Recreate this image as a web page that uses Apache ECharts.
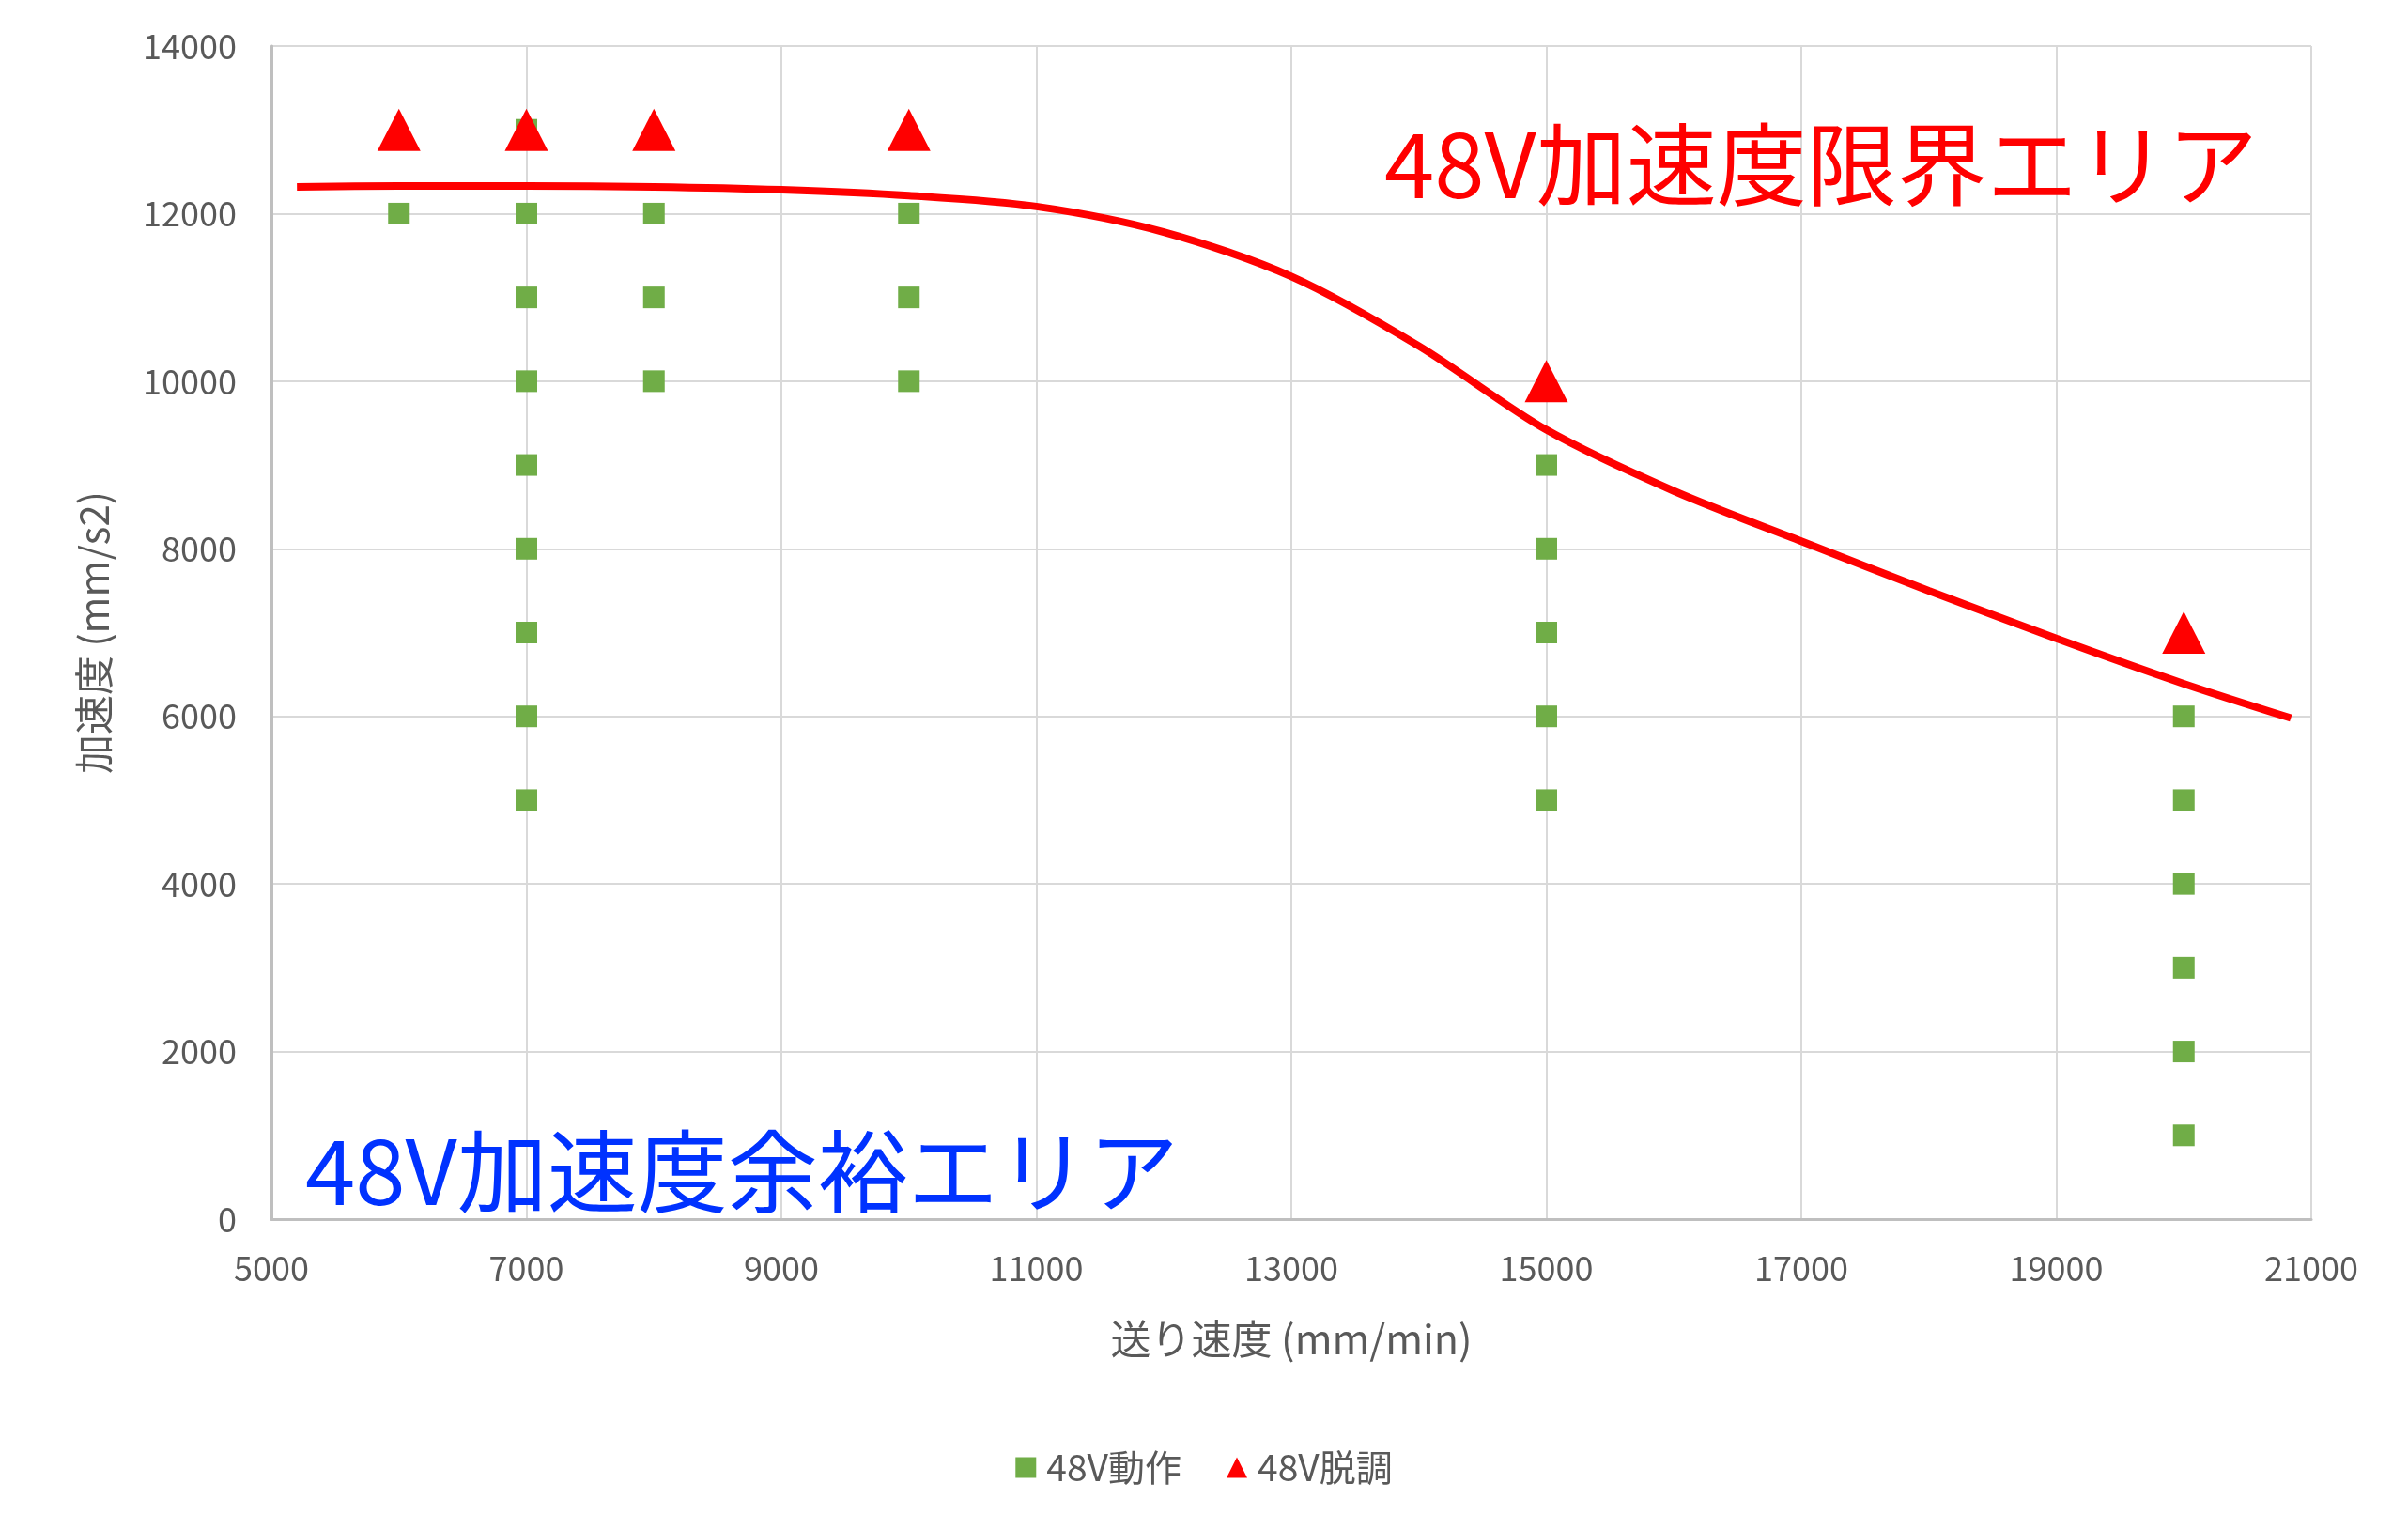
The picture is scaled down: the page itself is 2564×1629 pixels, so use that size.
<!DOCTYPE html>
<html>
<head>
<meta charset="utf-8">
<script src="https://cdn.jsdelivr.net/npm/echarts@6/dist/echarts.min.js"></script>
<style>
html,body{margin:0;padding:0;background:#fff;}
#chart{width:2564px;height:1629px;}
</style>
</head>
<body>
<div id="chart"></div>
<script>
// ---- data ----
const xTicks = [5000, 7000, 9000, 11000, 13000, 15000, 17000, 19000, 21000];
const yTicks = [0, 2000, 4000, 6000, 8000, 10000, 12000, 14000];

// 48V動作 (operating points)
const operatingX = [6000, 7000, 7000, 7000, 7000, 7000, 7000, 7000, 7000, 7000,
                    8000, 8000, 8000, 10000, 10000, 10000,
                    15000, 15000, 15000, 15000, 15000,
                    20000, 20000, 20000, 20000, 20000, 20000];
const operatingY = [12000, 13000, 12000, 11000, 10000, 9000, 8000, 7000, 6000, 5000,
                    12000, 11000, 10000, 12000, 11000, 10000,
                    9000, 8000, 7000, 6000, 5000,
                    6000, 5000, 4000, 3000, 2000, 1000];

// 48V脱調 (step-out points)
const stepOutX = [6000, 7000, 8000, 10000, 15000, 20000];
const stepOutY = [13000, 13000, 13000, 13000, 10000, 7000];

// limit curve (hand-drawn boundary)
const curveX = [5200, 6000, 7000, 8000, 9000, 10000, 11000, 12000, 13000, 14000, 15000, 16000, 17000, 18000, 19000, 20000, 20840];
const curveY = [12320, 12330, 12330, 12320, 12285, 12215, 12085, 11780, 11250, 10420, 9420, 8690, 8090, 7500, 6930, 6390, 5980];

const limitLabel = '48V加速度限界エリア';
const marginLabel = '48V加速度余裕エリア';
const seriesNames = ['48V動作', '48V脱調'];

// ---- build ----
const zip = (xs, ys) => xs.map((x, i) => [x, ys[i]]);
const FONT = '"Noto Sans CJK JP", "Noto Sans", sans-serif';
const chart = echarts.init(document.getElementById('chart'));
const plain = v => String(v);

chart.setOption({
  backgroundColor: '#ffffff',
  animation: false,
  textStyle: { fontFamily: FONT },
  grid: { left: 289, right: 103, top: 49, bottom: 331, containLabel: false },
  xAxis: {
    type: 'value',
    min: xTicks[0], max: xTicks[xTicks.length - 1], interval: 2000,
    name: '送り速度 (mm/min)',
    nameLocation: 'middle', nameGap: 106,
    nameTextStyle: { fontSize: 43, color: '#595959', fontFamily: FONT },
    axisLine: { show: true, lineStyle: { color: '#bfbfbf', width: 3 } },
    axisTick: { show: false },
    axisLabel: { fontSize: 36, color: '#595959', margin: 34, fontFamily: FONT, formatter: plain },
    splitLine: { show: true, lineStyle: { color: '#d9d9d9', width: 2 } }
  },
  yAxis: {
    type: 'value',
    min: yTicks[0], max: yTicks[yTicks.length - 1], interval: 2000,
    name: '加速度 (mm/s2)',
    nameLocation: 'middle', nameGap: 168,
    nameTextStyle: { fontSize: 42, color: '#595959', fontFamily: FONT },
    axisLine: { show: true, lineStyle: { color: '#bfbfbf', width: 3 } },
    axisTick: { show: false },
    axisLabel: { fontSize: 36, color: '#595959', margin: 37, fontFamily: FONT, formatter: plain },
    splitLine: { show: true, lineStyle: { color: '#d9d9d9', width: 2 } }
  },
  legend: {
    data: [
      { name: seriesNames[0], icon: 'rect' },
      { name: seriesNames[1], icon: 'triangle' }
    ],
    left: 'center', top: 1538,
    itemWidth: 22, itemHeight: 22, itemGap: 48,
    textStyle: { fontSize: 39, color: '#595959', fontFamily: FONT, padding: [0, 0, 0, 6] }
  },
  series: [
    {
      name: 'limit',
      type: 'line',
      data: zip(curveX, curveY),
      smooth: 0.3,
      symbol: 'none',
      lineStyle: { color: '#ff0000', width: 8 },
      z: 1,
      silent: true
    },
    {
      name: seriesNames[0],
      type: 'scatter',
      data: zip(operatingX, operatingY),
      symbol: 'rect',
      symbolSize: 23,
      itemStyle: { color: '#70ad47', opacity: 1 },
      z: 2
    },
    {
      name: seriesNames[1],
      type: 'scatter',
      data: zip(stepOutX, stepOutY),
      symbol: 'triangle',
      symbolSize: [46, 45],
      itemStyle: { color: '#ff0000', opacity: 1 },
      z: 3
    }
  ],
  graphic: [
    {
      type: 'text', x: 1474, y: 175,
      style: { text: limitLabel, fontSize: 96, fill: '#ff0000', fontFamily: FONT, verticalAlign: 'middle', align: 'left' },
      z: 10
    },
    {
      type: 'text', x: 325, y: 1247,
      style: { text: marginLabel, fontSize: 96, fill: '#0032ff', fontFamily: FONT, verticalAlign: 'middle', align: 'left' },
      z: 10
    }
  ]
});
</script>
</body>
</html>
